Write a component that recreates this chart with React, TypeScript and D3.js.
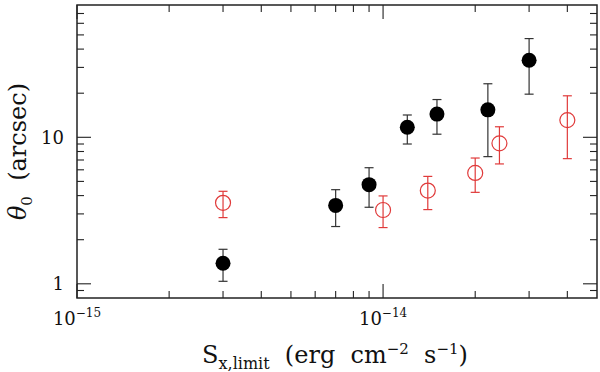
import React from "react";
import * as d3 from "d3";

const blackX = [3e-15, 7e-15, 9e-15, 1.2e-14, 1.5e-14, 2.2e-14, 3e-14];
const blackY = [1.38, 3.43, 4.75, 11.7, 14.4, 15.4, 33.6];
const blackHi = [1.72, 4.39, 6.2, 14.2, 18.1, 23.2, 47.2];
const blackLo = [1.04, 2.46, 3.33, 9.0, 10.5, 7.38, 19.7];

const redX = [3e-15, 1e-14, 1.4e-14, 2e-14, 2.4e-14, 4e-14];
const redY = [3.57, 3.19, 4.33, 5.71, 9.09, 13.1];
const redHi = [4.28, 3.98, 5.41, 7.22, 11.8, 19.2];
const redLo = [2.83, 2.42, 3.21, 4.21, 6.58, 7.15];

const xMajor = [1e-15, 1e-14];
const xMajorExp = ["−15", "−14"];
const xMinor = [2e-15, 3e-15, 4e-15, 5e-15, 6e-15, 7e-15, 8e-15, 9e-15, 2e-14, 3e-14, 4e-14];
const yMajor = [1, 10];
const yMajorLabels = ["1", "10"];
const yMinor = [0.9, 2, 3, 4, 5, 6, 7, 8, 9, 20, 30, 40, 50, 60, 70];

const W = 600, H = 372;
const L = 77, R = 597, T = 5, B = 298;
const RED = "#e03a3a";
const FONT = "'DejaVu Serif', serif";

export default function App() {
  const x = d3.scaleLog().domain([1e-15, 5e-14]).range([L, R]);
  const y = d3.scaleLog().domain([0.8, 80]).range([B, T]);
  const maj = 14, mn = 7, cap = 4.5, r = 7.5;
  const axisCol = "#222";
  const pre = { whiteSpace: "pre" as const };

  return (
    <svg width={W} height={H} style={{ position: "absolute", left: 0, top: 0, background: "#fff" }}>
      <rect x={L} y={T} width={R - L} height={B - T} fill="none" stroke={axisCol} strokeWidth={1.5} />
      {xMajor.map((v, i) => (
        <g key={"xm" + i} stroke={axisCol} strokeWidth={1.1}>
          <line x1={x(v)} x2={x(v)} y1={B} y2={B - maj} />
          <line x1={x(v)} x2={x(v)} y1={T} y2={T + maj} />
        </g>
      ))}
      {xMinor.map((v, i) => (
        <g key={"xn" + i} stroke={axisCol} strokeWidth={1.1}>
          <line x1={x(v)} x2={x(v)} y1={B} y2={B - mn} />
          <line x1={x(v)} x2={x(v)} y1={T} y2={T + mn} />
        </g>
      ))}
      {yMajor.map((v, i) => (
        <g key={"ym" + i} stroke={axisCol} strokeWidth={1.1}>
          <line x1={L} x2={L + maj} y1={y(v)} y2={y(v)} />
          <line x1={R} x2={R - maj} y1={y(v)} y2={y(v)} />
        </g>
      ))}
      {yMinor.map((v, i) => (
        <g key={"yn" + i} stroke={axisCol} strokeWidth={1.1}>
          <line x1={L} x2={L + mn} y1={y(v)} y2={y(v)} />
          <line x1={R} x2={R - mn} y1={y(v)} y2={y(v)} />
        </g>
      ))}
      {xMajor.map((v, i) => (
        <text key={"xl" + i} x={x(v)} y={325} textAnchor="middle" fontFamily={FONT} fontSize={18} fill="#111">
          10<tspan fontSize={12} dy={-8}>{xMajorExp[i]}</tspan>
        </text>
      ))}
      {yMajor.map((v, i) => (
        <text key={"yl" + i} x={64} y={y(v) + 6.5} textAnchor="end" fontFamily={FONT} fontSize={18} fill="#111">
          {yMajorLabels[i]}
        </text>
      ))}
      <text x={335} y={363} textAnchor="middle" fontFamily={FONT} fontSize={24} fill="#111" style={pre}>
        S<tspan fontSize={16} dy={6}>x,limit</tspan>
        <tspan dy={-6}>{"  (erg  cm"}</tspan>
        <tspan fontSize={15} dy={-9}>−2</tspan>
        <tspan dy={9}>{"  s"}</tspan>
        <tspan fontSize={15} dy={-9}>−1</tspan>
        <tspan dy={9}>)</tspan>
      </text>
      <text transform={`translate(26, ${(T + B) / 2}) rotate(-90)`} textAnchor="middle" fontFamily={FONT} fontSize={24} fill="#111" style={pre}>
        <tspan fontStyle="italic">θ</tspan>
        <tspan fontSize={15} dy={6}>0</tspan>
        <tspan dy={-6}>{"  (arcsec)"}</tspan>
      </text>
      {blackX.map((v, i) => (
        <g key={"be" + i} stroke="#333" strokeWidth={1.2}>
          <line x1={x(v)} x2={x(v)} y1={y(blackLo[i])} y2={y(blackHi[i])} />
          <line x1={x(v) - cap} x2={x(v) + cap} y1={y(blackLo[i])} y2={y(blackLo[i])} />
          <line x1={x(v) - cap} x2={x(v) + cap} y1={y(blackHi[i])} y2={y(blackHi[i])} />
        </g>
      ))}
      {blackX.map((v, i) => (
        <circle key={"bc" + i} cx={x(v)} cy={y(blackY[i])} r={r} fill="#000" />
      ))}
      {redX.map((v, i) => (
        <g key={"re" + i} stroke={RED} strokeWidth={1.2}>
          <line x1={x(v)} x2={x(v)} y1={y(redLo[i])} y2={y(redHi[i])} />
          <line x1={x(v) - cap} x2={x(v) + cap} y1={y(redLo[i])} y2={y(redLo[i])} />
          <line x1={x(v) - cap} x2={x(v) + cap} y1={y(redHi[i])} y2={y(redHi[i])} />
          <circle cx={x(v)} cy={y(redY[i])} r={r} fill="none" />
        </g>
      ))}
    </svg>
  );
}
